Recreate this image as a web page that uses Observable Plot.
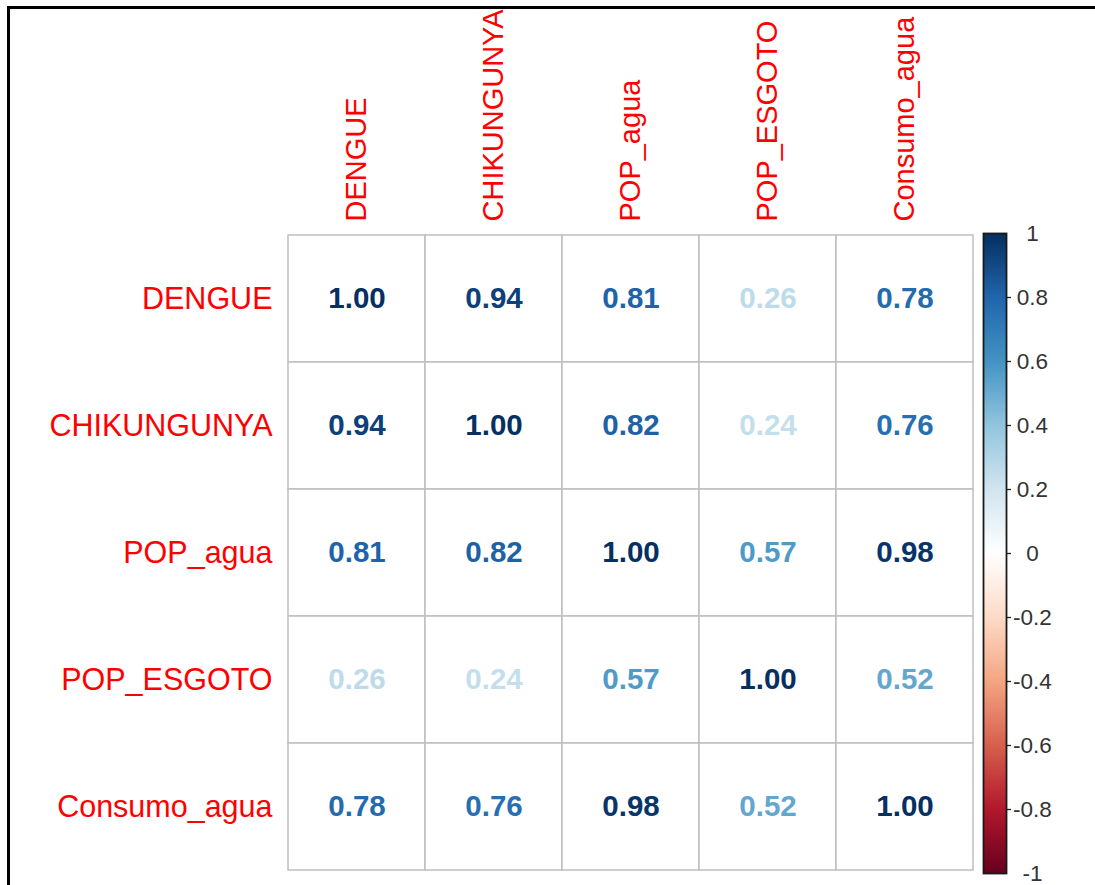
<!DOCTYPE html>
<html>
<head>
<meta charset="utf-8">
<script src="https://cdn.jsdelivr.net/npm/d3@7"></script>
<script src="https://cdn.jsdelivr.net/npm/@observablehq/plot@0.6"></script>
<style>
  html, body { margin: 0; padding: 0; background: #fff; }
  #wrap { position: relative; width: 1095px; height: 885px; overflow: hidden; background: #fff; }
  #frameTop { position: absolute; left: 7px; top: 6px; width: 1100px; height: 3px; background: #000; }
  #frameLeft { position: absolute; left: 7px; top: 6px; width: 3px; height: 900px; background: #000; }
  #main { position: absolute; left: 0; top: 0; }
  #bar { position: absolute; left: 975px; top: 0; }
</style>
</head>
<body>
<div id="wrap">
  <div id="frameTop"></div>
  <div id="frameLeft"></div>
  <div id="main"></div>
  <div id="bar"></div>
</div>
<script>
// Variables (rows and columns of the correlation matrix)
const variables = ["DENGUE", "CHIKUNGUNYA", "POP_agua", "POP_ESGOTO", "Consumo_agua"];

// Correlation values, one array per row
const rowDENGUE      = [1.00, 0.94, 0.81, 0.26, 0.78];
const rowCHIKUNGUNYA = [0.94, 1.00, 0.82, 0.24, 0.76];
const rowPOP_agua    = [0.81, 0.82, 1.00, 0.57, 0.98];
const rowPOP_ESGOTO  = [0.26, 0.24, 0.57, 1.00, 0.52];
const rowConsumo     = [0.78, 0.76, 0.98, 0.52, 1.00];

// Colour bar ticks and RdBu palette stops (corrplot COL2("RdBu"))
const barTicks = [-1, -0.8, -0.6, -0.4, -0.2, 0, 0.2, 0.4, 0.6, 0.8, 1];
const barTickLabels = ["-1", "-0.8", "-0.6", "-0.4", "-0.2", "0", "0.2", "0.4", "0.6", "0.8", "1"];
const palette = ["#67001F", "#B2182B", "#D6604D", "#F4A582", "#FDDBC7", "#FFFFFF",
                 "#D1E5F0", "#92C5DE", "#4393C3", "#2166AC", "#053061"];

const matrix = [rowDENGUE, rowCHIKUNGUNYA, rowPOP_agua, rowPOP_ESGOTO, rowConsumo];
const cells = [];
matrix.forEach((row, i) => row.forEach((v, j) => cells.push({row: variables[i], col: variables[j], v})));

const colorScale = {type: "linear", domain: barTicks, range: palette, clamp: true};
const font = "'Liberation Sans', Arial, Helvetica, sans-serif";

const main = Plot.plot({
  width: 1095,
  height: 885,
  marginLeft: 288,
  marginRight: 122,
  marginTop: 234,
  marginBottom: 14,
  style: {fontFamily: font, background: "transparent"},
  x: {type: "band", domain: variables, padding: 0, axis: null},
  y: {type: "band", domain: variables, padding: 0, axis: null},
  color: colorScale,
  marks: [
    Plot.cell(cells, {x: "col", y: "row", fill: "white", stroke: "#bfbfbf", strokeWidth: 1.5}),
    Plot.text(cells, {x: "col", y: "row", text: d => d.v.toFixed(2), fill: d => d.v,
                      fontWeight: "bold", fontSize: 29.5}),
    Plot.axisX({anchor: "top", tickSize: 0, tickPadding: 13, tickRotate: -90,
                fill: "#ff0000", fontSize: 29, label: null}),
    Plot.axisY({anchor: "left", tickSize: 0, tickPadding: 16,
                fill: "#ff0000", fontSize: 30.5, label: null})
  ]
});
document.getElementById("main").appendChild(main);

const innerTicks = barTicks.slice(1, -1);
const bar = Plot.plot({
  width: 120,
  height: 885,
  marginLeft: 8,
  marginRight: 89,
  marginTop: 233,
  marginBottom: 12,
  style: {fontFamily: font, background: "transparent"},
  x: {domain: [0, 1], axis: null},
  y: {domain: [-1, 1], axis: null},
  color: colorScale,
  marks: [
    Plot.raster({fill: (x, y) => y, x1: 0, x2: 1, y1: -1, y2: 1, pixelSize: 1, interpolate: "none"}),
    Plot.frame({stroke: "#1a1a1a", strokeWidth: 1.8}),
    Plot.axisY({anchor: "right", ticks: innerTicks, tickSize: 4, tickFormat: () => "", stroke: "#222", strokeWidth: 1.3}),
    Plot.text(barTicks, {y: d => d, text: (d, i) => barTickLabels[i], frameAnchor: "right",
                         dx: 26, textAnchor: "middle", fontSize: 22.5, fill: "#333"})
  ]
});
document.getElementById("bar").appendChild(bar);
</script>
</body>
</html>
